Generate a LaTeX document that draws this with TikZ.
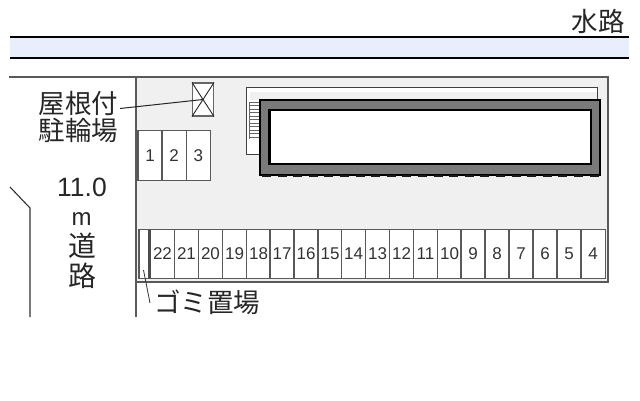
\documentclass[tikz,border=0pt]{standalone}
\usepackage{fontspec}
\setmainfont{Liberation Sans}
\newfontfamily\cjk{Noto Sans CJK JP}
\definecolor{lotgray}{HTML}{F0F0F0}
\definecolor{waterblue}{HTML}{E6EFFB}
\definecolor{ringgray}{HTML}{7A7A7A}
\tikzset{
  ink/.style={draw=black!85,line width=0.9pt},
  thinink/.style={draw=black!75,line width=0.9pt},
  stall/.style={draw=black!65,line width=1.2pt,fill=white,minimum width=24.2pt,minimum height=48pt,inner sep=0pt,text=black!80,font=\fontsize{17}{17}\selectfont},
  tallstall/.style={stall,minimum width=24.2pt,minimum height=48.5pt},
  lbl/.style={inner sep=0pt,text=black!85,font=\cjk\fontsize{26.5}{27}\selectfont,align=center}
}
\begin{document}
\begin{tikzpicture}[x=1pt,y=-1pt]
\useasboundingbox (0,0) rectangle (640,400);
% canal
\fill[waterblue] (10,37) rectangle (629,58);
\coordinate (wa) at (10,37); \coordinate (wb) at (629,37);
\coordinate (wc) at (10,58); \coordinate (wd) at (629,58);
\draw[black,line width=1.2pt] (wa) -- (wb);
\draw[black,line width=1.2pt] (wc) -- (wd);
\node[lbl,anchor=east] (water) at (625,21) {水路};
% lot
\fill[lotgray] (136,77) rectangle (608,282);
\draw[black!65,line width=1.2pt] (9,77) -- (608,77) -- (608,282) -- (136,282);
\draw[black!65,line width=1.2pt] (136,77) -- (136,317);
% road edge
\draw[ink,black!80,line width=1.1pt] (10,187) -- (30,208) -- (30,317);
% building
\draw[thinink,fill=white] (246,87) rectangle (597,154);
\fill[lotgray] (250,92) rectangle (597,100);
\foreach \y in {102,105.5,...,137}{\draw[black!60,line width=0.7pt] (249,\y) -- (259,\y);}
\draw[black!60,line width=0.7pt] (249,102) -- (249,138.5);
\draw[black,line width=2pt,fill=ringgray] (260,100) rectangle (600,175);
\draw[black,line width=2.4pt,fill=white] (269.5,110) rectangle (591,164);
\draw[black!90,line width=2.4pt,dash pattern=on 9pt off 6.6pt] (262,176) -- (600,176);
% bike shelter
\node[draw=black!60,line width=1.2pt,fill=white,minimum width=21pt,minimum height=33pt,inner sep=0pt] (bike) at (203,99.5) {};
\draw[black!85,line width=0.9pt] (bike.north west) -- (bike.south east);
\draw[black!85,line width=0.9pt] (bike.north east) -- (bike.south west);
\node[lbl] (bikelbl) at (78.5,117) {屋根付\\駐輪場};
\coordinate (bikestart) at (120,108.5);
\draw[black!85,line width=1pt] (bikestart) -- (bike.center);
% top stalls
\foreach \n/\x in {1/150,2/174,3/198.3}{
  \node[stall,minimum height=50pt] (t\n) at (\x,155.5) {\n};
}
% bottom stalls
\node[draw=black!65,line width=1.2pt,fill=white,minimum width=10pt,minimum height=48.5pt,inner sep=0pt] (trash) at (144,254) {};
\foreach \n/\x in {22/162.5,21/186.5,20/210.5,19/234.5,18/258.5,17/282,16/306,15/330,14/353.5,13/377.5,12/401.5,11/425.5,10/449.5,9/473,8/497,7/521,6/545,5/569,4/593}{
  \node[tallstall] (b\n) at (\x,254) {\n};
}
\draw[black!70,line width=2.2pt] (149.5,230) -- (149.5,278);
% trash label
\coordinate (trashpt) at (143.5,270);
\node[lbl,anchor=west] (trashlbl) at (154,302) {ゴミ置場};
\draw[black!80,line width=0.8pt] (trashpt) -- (150,303);
% road label
\node[inner sep=0pt,text=black!85,font=\fontsize{26.5}{27}\selectfont] (w) at (82,187) {11.0};
\node[inner sep=0pt,text=black!85,font=\fontsize{24}{24}\selectfont] (m) at (81.5,219) {m};
\node[lbl,font=\cjk\fontsize{28}{28}\selectfont] (r1) at (82,246) {道};
\node[lbl,font=\cjk\fontsize{28}{28}\selectfont] (r2) at (82,276) {路};
\end{tikzpicture}
\end{document}
